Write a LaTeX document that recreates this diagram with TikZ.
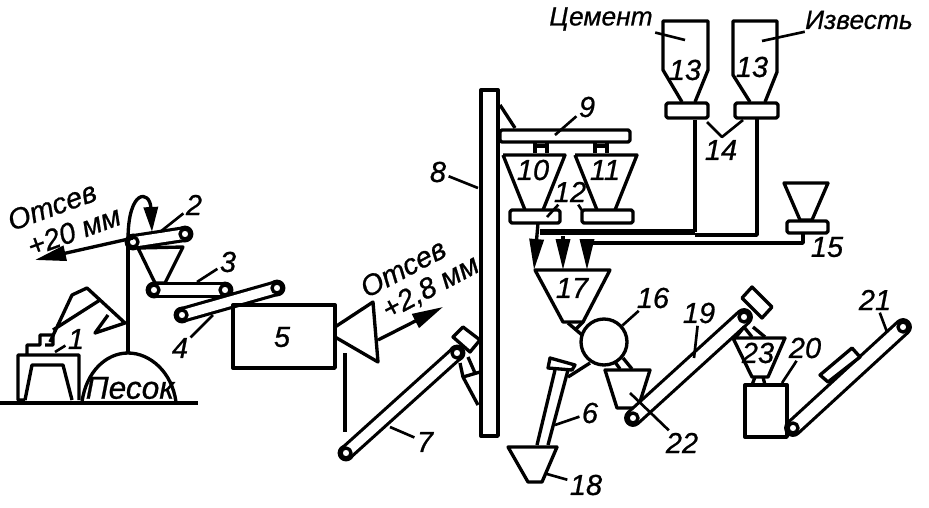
\documentclass[tikz,border=0pt]{standalone}
\usepackage{fontspec}
\setmainfont[ItalicFeatures={FakeBold=0.7}]{Liberation Sans}
\usetikzlibrary{arrows.meta}
\begin{document}
\begin{tikzpicture}[x=0.02cm,y=-0.02cm,line width=1.9pt,line join=round]
    \tikzstyle{lbl}=[font=\fontsize{16.5}{18}\selectfont\itshape, inner sep=0.5pt]
    \tikzstyle{word}=[font=\fontsize{15}{18}\selectfont\itshape, inner sep=0.5pt]
    \tikzstyle{sieve}=[font=\fontsize{16.5}{18}\selectfont\itshape, inner sep=0.5pt]
    \tikzstyle{leader}=[line width=1.5pt]
    \tikzstyle{feeder}=[draw, fill=white, rounded corners=1pt]
    \tikzstyle{pulley}=[circle, draw, fill=white, inner sep=0pt, minimum size=0.27cm]
    \tikzstyle{roller}=[circle, draw, fill=white, inner sep=0pt, minimum size=0.2cm]
    \tikzstyle{belt}=[double=white, double distance=0.19cm, line width=1.8pt, line cap=round]
    \tikzstyle{bigarrow}=[-{Triangle[length=0.62cm,width=0.3cm]}]
    \tikzstyle{droparrow}=[-{Triangle[length=0.62cm,width=0.28cm]}]
    \useasboundingbox (0,0) rectangle (929,507);

    \draw[line width=2.2pt] (0,403) -- (198,403);
    \draw (25,400) -- (18,400) -- (18,355) -- (79,355) -- (79,400)
          (25,400) -- (32,365) -- (63,365) -- (72,400)
          (27,355) -- (27,345) -- (40,345) -- (40,335) -- (53,335) -- (53,345) -- (45,345);
    \draw (50,342) -- (72,295) -- (87,288) -- (125,323) -- (95,333) -- (108,315)
          (53,330) -- (100,300);
    \draw (128,352) -- (128,243);
    \draw (82,402) .. controls (86,372) and (106,353) .. (128,353)
          .. controls (150,353) and (172,372) .. (176,402);
    \node[word, font=\fontsize{18}{18}\selectfont\itshape] (sand) at (130,388) {Песок};

    \node[pulley] (p2a) at (133,242) {};
    \node[pulley] (p2b) at (185,234) {};
    \draw[belt] (p2a.center) -- (p2b.center);
    \node[roller] at (p2a) {};
    \node[roller] at (p2b) {};
    \draw[-{Triangle[length=0.5cm,width=0.28cm]}] (128,240) .. controls (128,188) and (150,190) .. (152,232);
    \draw (138,248) -- (183,247) -- (165,283) -- (155,283) -- cycle;

    \node[pulley] (p3a) at (154,290) {};
    \node[pulley] (p3b) at (225,290) {};
    \draw[belt] (p3a.center) -- (p3b.center);
    \node[roller] at (p3a) {};
    \node[roller] at (p3b) {};

    \node[pulley] (p4a) at (182,315) {};
    \node[pulley] (p4b) at (277,288) {};
    \draw[belt] (p4a.center) -- (p4b.center);
    \node[roller] at (p4a) {};
    \node[roller] at (p4b) {};

    \draw (233,305) -- (335,305) -- (335,368) -- (233,368) -- cycle;
    \draw (335,327) -- (373,302) -- (378,362) -- (335,337);
    \draw (345,353) -- (345,432);

    \node[pulley] (p7a) at (346,453) {};
    \node[pulley] (p7b) at (457,353) {};
    \draw[belt] (p7a.center) -- (p7b.center);
    \node[roller] at (p7a) {};
    \node[roller] at (p7b) {};
    \filldraw[fill=white] (463,327) -- (453,337) -- (470,352) -- (480,340) -- cycle;
    \draw (460,363) -- (463,377) -- (478,405)
          (463,377) -- (480,372)
          (468,357) -- (475,373);

    \draw[fill=white] (481,90) rectangle (498,436);
    \draw (500,105) -- (515,128);
    \draw[feeder] (500,130) rectangle (630,142);
    \draw[line width=2.5pt] (535,146) -- (547,146) (595,146) -- (607,146);
    \draw (535,143) -- (535,153) (547,143) -- (547,153) (595,143) -- (595,153) (607,143) -- (607,153);
    \draw (503,155) -- (565,155) -- (543,210) (503,155) -- (525,210);
    \draw (575,155) -- (637,155) -- (615,210) (575,155) -- (597,210);
    \draw[feeder] (510,210) rectangle (560,223);
    \draw[feeder] (582,210) rectangle (633,223);

    \draw[line width=3.4pt] (540,232) -- (695,232);
    \draw (695,232) -- (695,120);
    \draw (695,235) -- (757,235) -- (757,118);
    \draw (593,243) -- (803,243) -- (803,233);
    \draw[droparrow] (538,223) -- (534,270);
    \draw[droparrow] (563,236) -- (563,270);
    \draw[droparrow] (587,243) -- (587,270);

    \draw (682,102) -- (663,70) -- (663,21) -- (708,21) -- (708,70) -- (695,102);
    \draw (750,102) -- (733,75) -- (733,21) -- (777,21) -- (777,72) -- (765,102);
    \draw[feeder] (666,103) rectangle (708,118);
    \draw[feeder] (735,103) rectangle (778,118);
    \draw[leader] (707,122) -- (722,137) -- (743,120);

    \draw (784,183) -- (828,183) -- (812,220) -- (800,220) -- cycle;
    \draw[feeder] (787,221) rectangle (828,233);

    \draw (535,270) -- (610,270) -- (583,322) -- (563,322) -- cycle;
    \node[circle, draw, inner sep=0pt, minimum size=0.92cm] (mixer) at (604,342) {};
    \draw (568,323) -- (582,335) (583,322) -- (575,330);
    \draw (590,363) -- (568,377);
    \draw (555,370) -- (537,445) (568,370) -- (548,445);
    \filldraw[fill=white] (550,358) -- (575,365) -- (572,370) -- (548,368) -- cycle;
    \draw (508,447) -- (557,447) -- (542,482) -- (528,482) -- cycle;

    \draw (623,358) -- (632,369) (615,362) -- (620,369);
    \draw (605,370) -- (650,370) -- (638,408) -- (617,408) -- cycle;

    \node[pulley] (p19a) at (633,418) {};
    \node[pulley] (p19b) at (744,317) {};
    \draw[belt, double distance=0.23cm] (p19a.center) -- (p19b.center);
    \node[roller] at (p19a) {};
    \node[roller] at (p19b) {};
    \draw[fill=white] (752,287) -- (742,298) -- (762,318) -- (772,307) -- cycle;
    \draw (733,338) -- (785,338) -- (768,377) -- (752,377) -- cycle;
    \draw (744,327) -- (736,337) (744,327) -- (752,337) (753,327) -- (765,337);
    \draw (755,377) -- (752,385) (763,377) -- (765,385);
    \draw (745,385) rectangle (787,437);

    \node[pulley] (p21a) at (793,428) {};
    \node[pulley] (p21b) at (903,327) {};
    \draw[belt, double distance=0.23cm] (p21a.center) -- (p21b.center);
    \node[roller] at (p21a) {};
    \node[roller] at (p21b) {};
    \draw[fill=white] (820,375) -- (852,348) -- (860,357) -- (828,382) -- cycle;

    \node[sieve, rotate=20] (sieve1) at (52,206) {Отсев};
    \node[sieve, rotate=20] (sieve2) at (74,231) {+20 мм};
    \draw[bigarrow] (133,238) -- (35,260);
    \node[sieve, rotate=28] (sieve3) at (403,268) {Отсев};
    \node[sieve, rotate=28] (sieve4) at (431,288) {+2,8 мм};
    \draw[bigarrow] (378,340) -- (443,307);
    \node[word] (cement) at (601,19) {Цемент};
    \node[word] (lime) at (859,20) {Известь};
    \draw[leader] (cement) -- (685,40);
    \draw[leader] (lime) -- (762,41);

    \node[lbl] (n1) at (76,339) {1};
    \node[lbl] (n2) at (194,205) {2};
    \node[lbl] (n3) at (228,262) {3};
    \node[lbl] (n4) at (180,348) {4};
    \node[lbl] (n5) at (282,337) {5};
    \node[lbl] (n6) at (590,413) {6};
    \node[lbl] (n7) at (425,442) {7};
    \node[lbl] (n8) at (438,172) {8};
    \node[lbl] (n9) at (587,107) {9};
    \node[lbl] (n10) at (533,170) {10};
    \node[lbl] (n11) at (605,170) {11};
    \node[lbl] (n12) at (570,192) {12};
    \node[lbl] (n13a) at (685,70) {13};
    \node[lbl] (n13b) at (752,67) {13};
    \node[lbl] (n14) at (721,150) {14};
    \node[lbl] (n15) at (827,247) {15};
    \node[lbl] (n16) at (653,298) {16};
    \node[lbl] (n17) at (572,288) {17};
    \node[lbl] (n18) at (586,485) {18};
    \node[lbl] (n19) at (699,313) {19};
    \node[lbl] (n20) at (805,348) {20};
    \node[lbl] (n21) at (875,300) {21};
    \node[lbl] (n22) at (682,443) {22};
    \node[lbl] (n23) at (758,353) {23};

    \draw[leader] (n1) -- (55,352);
    \draw[leader] (n2) -- (160,232);
    \draw[leader] (n3) -- (197,282);
    \draw[leader] (n4) -- (213,315);
    \draw[leader] (n6) -- (555,425);
    \draw[leader] (n7) -- (390,427);
    \draw[leader] (n8) -- (478,188);
    \draw[leader] (n9) -- (555,135);
    \draw[leader] (n12) -- (547,217);
    \draw[leader] (n12) -- (583,212);
    \draw[leader] (n16) -- (mixer);
    \draw[leader] (n18) -- (547,474);
    \draw[leader] (n19) -- (694,358);
    \draw[leader] (n20) -- (782,383);
    \draw[leader] (n21) -- (887,332);
    \draw[leader] (n22) -- (630,393);

\end{tikzpicture}
\end{document}
